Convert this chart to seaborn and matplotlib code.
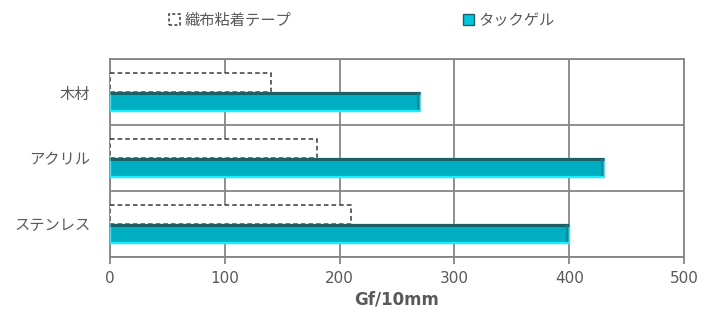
import matplotlib
matplotlib.use("Agg")
import matplotlib.pyplot as plt
import seaborn as sns
import pandas as pd
from matplotlib.patches import Patch

categories = ["木材", "アクリル", "ステンレス"]
series_names = ["織布粘着テープ", "タックゲル"]
tape_values = [140, 180, 210]
gel_values = [270, 430, 400]
x_ticks = [0, 100, 200, 300, 400, 500]
x_label = "Gf/10mm"

sns.set_theme(style="white")
plt.rcParams["font.family"] = ["Noto Sans CJK JP", "DejaVu Sans"]

df = pd.DataFrame({
    "category": categories * 2,
    "series": [series_names[0]] * 3 + [series_names[1]] * 3,
    "value": tape_values + gel_values,
})

fig = plt.figure(figsize=(7.14, 3.10), dpi=100)
ax = fig.add_axes([110 / 714, 1 - 257 / 310, (684 - 110) / 714, (257 - 59) / 310])

sns.barplot(data=df, y="category", x="value", hue="series", order=categories,
            hue_order=series_names, orient="h", width=0.58, ax=ax, legend=False,
            errorbar=None)

gray = "#868686"
txt = "#595959"
n = len(categories)
for i, p in enumerate(ax.patches[: 2 * n]):
    if i < n:
        p.set_facecolor("white")
        p.set_edgecolor("#3a3a3a")
        p.set_linestyle((0, (3, 2)))
        p.set_linewidth(1.1)
        p.set_zorder(3)
    else:
        p.set_facecolor("#00AEC2")
        p.set_edgecolor("#5fd8e6")
        p.set_linewidth(1.0)
        p.set_zorder(3)
        x0, y0 = p.get_x(), p.get_y()
        w, h = p.get_width(), p.get_height()
        ax.plot([x0, x0 + w], [y0 + 0.01, y0 + 0.01], color="#1d5f66", lw=2.2, zorder=4,
                solid_capstyle="butt")
        ax.plot([x0, x0 + w], [y0 + h - 0.005, y0 + h - 0.005], color="#19f0ff", lw=1.6,
                zorder=4, solid_capstyle="butt")
        ax.plot([x0 + w - 1.5, x0 + w - 1.5], [y0 + 0.02, y0 + h - 0.02], color="#1d7f88",
                lw=1.2, zorder=4, solid_capstyle="butt")

ax.set_xlim(0, 500)
ax.set_ylim(n - 0.5, -0.5)
ax.set_xticks(x_ticks)
ax.set_xticklabels([str(t) for t in x_ticks], color=txt, fontsize=11, family="DejaVu Sans")
ax.set_yticks(range(n))
ax.set_yticklabels(categories, color=txt, fontsize=11)
ax.set_yticks([i + 0.5 for i in range(-1, n)], minor=True)
ax.grid(True, axis="x", which="major", color=gray, lw=1.3, zorder=0)
ax.grid(True, axis="y", which="minor", color=gray, lw=1.3, zorder=0)
ax.grid(False, axis="y", which="major")
ax.set_axisbelow(True)
for s in ax.spines.values():
    s.set_color(gray)
    s.set_linewidth(1.3)
ax.tick_params(axis="x", which="major", direction="out", length=5, color=gray, width=1.3, pad=5, bottom=True)
ax.tick_params(axis="y", which="major", length=0, pad=14)
ax.tick_params(axis="y", which="minor", length=0)
ax.set_xlabel(x_label, color=txt, fontsize=12, fontweight="bold", family="DejaVu Sans", labelpad=3)
ax.set_ylabel("")

h1 = Patch(facecolor="white", edgecolor="#3a3a3a", linestyle=(0, (2, 1.5)), linewidth=1.1)
h2 = Patch(facecolor="#00C8DC", edgecolor="#1d5f66", linewidth=1.0)
fig.legend([h1], [series_names[0]], loc="center left", bbox_to_anchor=(169 / 714, 1 - 20 / 310),
           frameon=False, fontsize=11, handlelength=0.75, handleheight=0.75,
           handletextpad=0.25, labelcolor=txt, borderpad=0, borderaxespad=0)
fig.legend([h2], [series_names[1]], loc="center left", bbox_to_anchor=(463 / 714, 1 - 20 / 310),
           frameon=False, fontsize=11, handlelength=0.75, handleheight=0.75,
           handletextpad=0.25, labelcolor=txt, borderpad=0, borderaxespad=0)

fig.savefig("out.png", dpi=100)
